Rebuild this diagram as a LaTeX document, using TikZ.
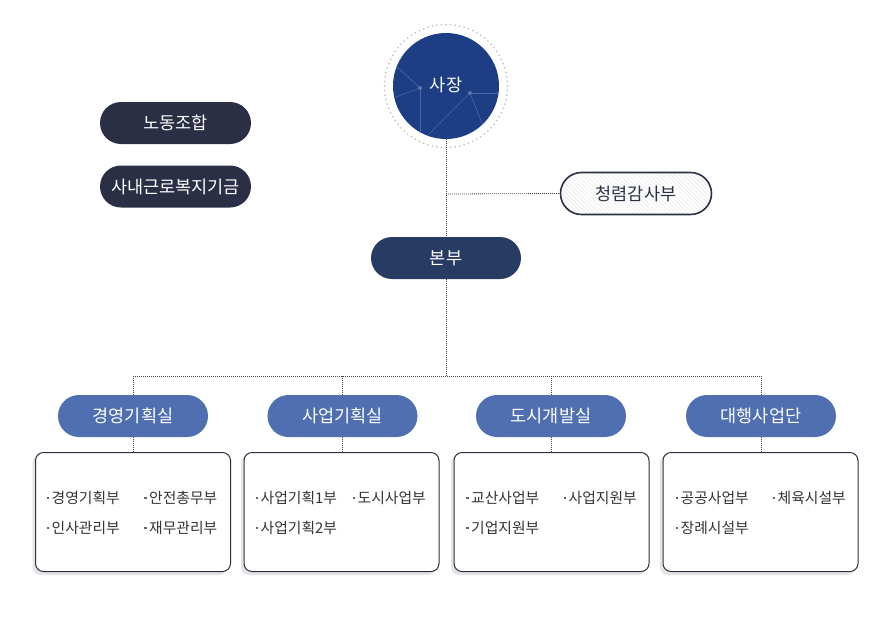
\documentclass[tikz,border=0pt]{standalone}
\usepackage{fontspec}
\setmainfont{Noto Sans CJK KR}
\usetikzlibrary{patterns.meta}
\definecolor{ceoblue}{HTML}{1D3E84}
\definecolor{ceoline}{HTML}{4A66A6}
\definecolor{unionc}{HTML}{2B2F45}
\definecolor{hqc}{HTML}{283C63}
\definecolor{officec}{HTML}{4F6FB0}
\definecolor{borderc}{HTML}{2B3145}
\definecolor{itemc}{HTML}{333333}
\definecolor{bulletc}{HTML}{666666}
\definecolor{shadowc}{HTML}{E4E4E4}
\definecolor{dotc}{HTML}{444444}
\newcommand{\orgitem}[1]{{\color{bulletc}\rule[0.3em]{2.4pt}{2.4pt}}\hspace{2.6pt}#1}
\begin{document}
\begin{tikzpicture}[x=1pt,y=-1pt,
  pill/.style={rounded corners=21pt, minimum width=151pt, minimum height=42pt, inner sep=0pt,
     text=white, font=\fontsize{17.5}{17.5}\selectfont},
  unionpill/.style={pill, fill=unionc},
  officepill/.style={pill, fill=officec, minimum width=150pt},
  deptbox/.style={draw=borderc, line width=1pt, fill=white, rounded corners=8pt, minimum width=195pt, minimum height=119pt, inner sep=0pt},
  conn/.style={draw=dotc, line width=0.8pt, dash pattern=on 1pt off 1pt},
  itm/.style={anchor=west, inner sep=0pt, text=itemc, font=\fontsize{14.8}{14.8}\selectfont}
]
\useasboundingbox[fill=white] (0,0) rectangle (894,641);

% CEO
\draw[gray!45, line width=2pt, line cap=round, dash pattern=on 0pt off 4.6pt] (446,86) circle (61.5pt);
\node[circle, fill=ceoblue, minimum size=106pt, inner sep=0pt] (ceo) at (446,86) {};
\begin{scope}
\clip (446,86) circle (53pt);
\draw[ceoline, line width=0.6pt] (420,88) -- (394,64);
\draw[ceoline, line width=0.6pt] (420,88) -- (393,98);
\draw[ceoline, line width=0.6pt] (420,88) -- (420,140);
\draw[ceoline, line width=0.6pt] (470,93) -- (426,137);
\draw[ceoline, line width=0.6pt] (470,93) -- (500,93);
\draw[ceoline, line width=0.6pt] (470,93) -- (483,126);
\fill[ceoline!90!white] (420,88) circle (2pt) (470,93) circle (2pt);
\end{scope}
\node[text=white, font=\fontsize{17.5}{17.5}\selectfont, inner sep=0pt] (ceotext) at (446,85) {사장};

% left pills
\node[unionpill] (union) at (175.5,123) {노동조합};
\node[unionpill] (fund) at (175.5,186.5) {사내근로복지기금};

% audit
\node[pill, draw=borderc, line width=1.6pt, text=borderc,
      pattern={Lines[angle=-45,distance=3pt,line width=0.4pt]}, pattern color=gray!22] (audit) at (636,193.5) {청렴감사부};

% HQ
\node[pill, fill=hqc, minimum width=150pt] (hq) at (446,258) {본부};

% offices
\node[officepill] (o1) at (133,416) {경영기획실};
\node[officepill] (o2) at (342.5,416) {사업기획실};
\node[officepill] (o3) at (551,416) {도시개발실};
\node[officepill] (o4) at (761,416) {대행사업단};

% boxes with shadow
\foreach \cx/\n in {133/b1, 341.5/b2, 551.5/b3, 760.5/b4}{
  \fill[shadowc, rounded corners=8pt] (\cx-100.5,455) rectangle (\cx+94.5,575);
  \node[deptbox] (\n) at (\cx,512) {};
}

% connectors
\coordinate (j1) at (446,194);
\coordinate (j2) at (446,376);
\draw[conn] (ceo.south) -- (hq.north);
\draw[conn] (j1) -- (audit.west);
\draw[conn] (hq.south) -- (j2);
\draw[conn] (o1.north |- j2) -- (o4.north |- j2);
\foreach \o/\b in {o1/b1, o2/b2, o3/b3, o4/b4}{
  \draw[conn] (\o.north |- j2) -- (\o.north);
  \draw[conn] (\o.south) -- (\o.south |- \b.north);
}

% items
\node[itm] (i11) at (46.5,498) {\orgitem{경영기획부}};
\node[itm] (i12) at (144,498) {\orgitem{안전총무부}};
\node[itm] (i13) at (46.5,528) {\orgitem{인사관리부}};
\node[itm] (i14) at (144,528) {\orgitem{재무관리부}};

\node[itm] (i21) at (255.5,498) {\orgitem{사업기획1부}};
\node[itm] (i22) at (352.5,498) {\orgitem{도시사업부}};
\node[itm] (i23) at (255.5,528) {\orgitem{사업기획2부}};

\node[itm] (i31) at (466,498) {\orgitem{교산사업부}};
\node[itm] (i32) at (563.5,498) {\orgitem{사업지원부}};
\node[itm] (i33) at (466,528) {\orgitem{기업지원부}};

\node[itm] (i41) at (675.5,498) {\orgitem{공공사업부}};
\node[itm] (i42) at (772.5,498) {\orgitem{체육시설부}};
\node[itm] (i43) at (675.5,528) {\orgitem{장례시설부}};
\end{tikzpicture}
\end{document}
